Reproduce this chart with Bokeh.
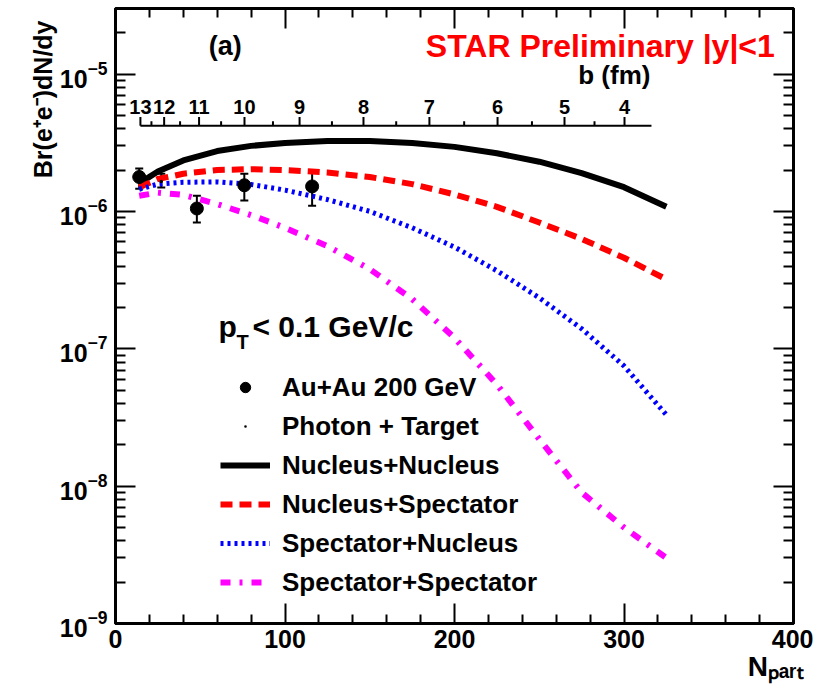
import math

from bokeh.core.properties import value
from bokeh.embed import file_html
from bokeh.models import (ColumnDataSource, FixedTicker, Label, Legend, LegendItem,
                          LinearAxis, LogAxis, Range1d, TeeHead, Title, Whisker)
from bokeh.plotting import figure
from bokeh.resources import INLINE

FONT = "Liberation Sans"

# Au+Au 200 GeV measurement (Npart, yield, error band)
npart_data = [14, 48, 76, 116]
yield_data = [1.78e-6, 1.05e-6, 1.55e-6, 1.52e-6]
yield_hi = [2.05e-6, 1.30e-6, 1.88e-6, 1.91e-6]
yield_lo = [1.46e-6, 0.83e-6, 1.20e-6, 1.10e-6]

# Photon + target measurement
npart_pt = [27]
yield_pt = [1.65e-6]
yield_pt_hi = [1.88e-6]
yield_pt_lo = [1.49e-6]

# Model calculations versus Npart
npart_model = [14, 25, 40, 60, 80, 100, 125, 150, 175, 200, 225, 250, 275, 300, 325]
nucleus_nucleus = [1.60e-6, 1.95e-6, 2.35e-6, 2.75e-6, 3.00e-6, 3.15e-6, 3.25e-6, 3.25e-6,
                   3.15e-6, 2.95e-6, 2.65e-6, 2.30e-6, 1.90e-6, 1.50e-6, 1.08e-6]
nucleus_spectator = [1.50e-6, 1.72e-6, 1.88e-6, 2.00e-6, 2.03e-6, 2.00e-6, 1.92e-6, 1.78e-6,
                     1.58e-6, 1.33e-6, 1.08e-6, 0.83e-6, 0.63e-6, 0.46e-6, 0.32e-6]
spectator_nucleus = [1.45e-6, 1.58e-6, 1.63e-6, 1.64e-6, 1.57e-6, 1.43e-6, 1.22e-6, 1.00e-6,
                     7.6e-7, 5.5e-7, 3.7e-7, 2.35e-7, 1.40e-7, 7.5e-8, 3.3e-8]
spectator_spectator = [1.30e-6, 1.37e-6, 1.32e-6, 1.13e-6, 9.4e-7, 7.6e-7, 5.6e-7, 3.8e-7,
                       2.3e-7, 1.2e-7, 5.5e-8, 2.2e-8, 9.0e-9, 5.0e-9, 3.0e-9]

# Impact parameter scale (b in fm) and its Npart equivalents
b_fm = [13, 12, 11, 10, 9, 8, 7, 6, 5, 4]
b_npart = [14.7, 28.7, 49.3, 76.1, 108.6, 146.3, 185.2, 225.4, 264.9, 300.3]
b_minor_npart = [21.2, 38.1, 62.3, 92.9, 127.7, 165.6, 205.7, 245.7, 282.6]
b_axis_end = 316.2
b_axis_y = 4.2e-6

# Axis ticks
x_major = [0, 100, 200, 300, 400]
x_minor = [v for v in range(0, 401, 20) if v % 100]
y_exponents = [-9, -8, -7, -6, -5]
y_major = [10.0 ** e for e in y_exponents]
y_minor = [k * 10.0 ** e for e in y_exponents for k in range(2, 10)]

p = figure(width=813, height=696, output_backend="svg", toolbar_location=None,
           x_range=Range1d(0, 400), y_range=Range1d(1e-9, 3e-5), y_axis_type="log",
           x_axis_location=None, y_axis_location=None,
           min_border_left=115, min_border_right=20, min_border_top=8, min_border_bottom=73)
p.grid.visible = False
p.outline_line_color = "black"
p.outline_line_width = 3
p.background_fill_color = "white"
p.border_fill_color = "white"


def style_axis(ax, labels):
    ax.axis_line_width = 3
    ax.major_tick_line_width = 2
    ax.minor_tick_line_width = 2
    ax.major_tick_out = 0
    ax.minor_tick_out = 0
    ax.major_label_text_font = FONT
    ax.major_label_text_font_style = "bold"
    ax.major_label_text_color = "black"
    if not labels:
        # mirrored axis: ticks only
        ax.major_label_overrides = {t: "" for t in ax.ticker.ticks}
        ax.major_label_standoff = 0


bottom = LinearAxis(ticker=FixedTicker(ticks=x_major, minor_ticks=x_minor))
style_axis(bottom, True)
bottom.major_tick_in = 20
bottom.minor_tick_in = 9
bottom.major_label_text_font_size = "25px"
bottom.major_label_standoff = 6
p.add_layout(bottom, "below")

top = LinearAxis(ticker=FixedTicker(ticks=x_major, minor_ticks=x_minor))
style_axis(top, False)
top.major_tick_in = 20
top.minor_tick_in = 9
p.add_layout(top, "above")

left = LogAxis(ticker=FixedTicker(ticks=y_major, minor_ticks=y_minor))
style_axis(left, True)
left.major_tick_in = 20
left.minor_tick_in = 10
left.major_label_text_font_size = "25px"
left.major_label_standoff = 8
p.add_layout(left, "left")

right = LogAxis(ticker=FixedTicker(ticks=y_major, minor_ticks=y_minor))
style_axis(right, False)
right.major_tick_in = 20
right.minor_tick_in = 10
p.add_layout(right, "right")

# Axis titles: vertical one pinned to the top, horizontal one to the right end
p.add_layout(Title(text="Br(e\u207ae\u207b)dN/dy", align="right", offset=12, standoff=0,
                   text_font=FONT, text_font_style="bold", text_font_size="25px",
                   text_color="black"), "left")
p.add_layout(Title(text="N\u209a\u2090\u1d63\u209c", align="right", offset=-10, standoff=0,
                   vertical_align="top", text_font=FONT, text_font_style="bold",
                   text_font_size="28px", text_color="black"), "below")

# Model curves
model = ColumnDataSource(dict(x=npart_model, nn=nucleus_nucleus, ns=nucleus_spectator,
                              sn=spectator_nucleus, ss=spectator_spectator))
r_nn = p.line("x", "nn", source=model, line_color="black", line_width=6)
r_ns = p.line("x", "ns", source=model, line_color="#ff0000", line_width=6,
              line_dash="12 7")
r_sn = p.line("x", "sn", source=model, line_color="#0000ff", line_width=5,
              line_dash="3 4")
r_ss = p.line("x", "ss", source=model, line_color="#ff00ff", line_width=6,
              line_dash="10 9 3 9")

# Measurements with error bars
data = ColumnDataSource(dict(x=npart_data, y=yield_data, hi=yield_hi, lo=yield_lo))
pt = ColumnDataSource(dict(x=npart_pt, y=yield_pt, hi=yield_pt_hi, lo=yield_pt_lo))
for src in (data, pt):
    p.add_layout(Whisker(source=src, base="x", upper="hi", lower="lo", dimension="height",
                         line_color="black", line_width=2,
                         upper_head=TeeHead(size=8, line_width=2, line_color="black"),
                         lower_head=TeeHead(size=8, line_width=2, line_color="black")))
r_data = p.scatter("x", "y", source=data, size=13, marker="circle",
                   fill_color="black", line_color="black")
r_pt = p.scatter("x", "y", source=pt, size=14, marker="dot", line_color="black",
                 line_width=2)

# Impact parameter scale drawn inside the frame
p.segment(x0=[b_npart[0]], y0=[b_axis_y], x1=[b_axis_end], y1=[b_axis_y],
          line_color="black", line_width=2)
p.segment(x0=b_npart, y0=[b_axis_y] * len(b_npart), x1=b_npart,
          y1=[b_axis_y * 1.16] * len(b_npart), line_color="black", line_width=2)
p.segment(x0=b_minor_npart, y0=[b_axis_y] * len(b_minor_npart), x1=b_minor_npart,
          y1=[b_axis_y * 1.08] * len(b_minor_npart), line_color="black", line_width=2)
p.text(x=b_npart, y=[b_axis_y * 1.38] * len(b_npart), text=[str(b) for b in b_fm],
       text_font=value(FONT), text_font_style="bold", text_font_size="20px",
       text_align="center", text_baseline="middle", text_color="black")


def label(x, y, text, size, color="black", align="left", baseline="middle"):
    p.add_layout(Label(x=x, y=y, text=text, text_font=FONT, text_font_style="bold",
                       text_font_size=size, text_color=color, text_align=align,
                       text_baseline=baseline))


label(315.6, 9.9e-6, "b (fm)", "26px", align="right")
label(55, 1.61e-5, "(a)", "27px")
label(389, 1.61e-5, "STAR Preliminary |y|<1", "32px", color="#ff0000", align="right")
label(60.8, 1.45e-7, "p", "30px")
label(71.4, 1.12e-7, "T", "20px")
label(80.8, 1.45e-7, "< 0.1 GeV/c", "30px")

legend = Legend(items=[
    LegendItem(label="Au+Au 200 GeV", renderers=[r_data]),
    LegendItem(label="Photon + Target", renderers=[r_pt]),
    LegendItem(label="Nucleus+Nucleus", renderers=[r_nn]),
    LegendItem(label="Nucleus+Spectator", renderers=[r_ns]),
    LegendItem(label="Spectator+Nucleus", renderers=[r_sn]),
    LegendItem(label="Spectator+Spectator", renderers=[r_ss]),
], location=(105, 22), border_line_color=None, background_fill_alpha=0,
    padding=0, margin=0, spacing=1, glyph_width=50, glyph_height=26, label_height=38,
    label_standoff=12, label_text_font=FONT, label_text_font_style="bold",
    label_text_font_size="26px", label_text_color="black")
p.add_layout(legend)

open("out.html", "w").write(file_html(p, INLINE))
